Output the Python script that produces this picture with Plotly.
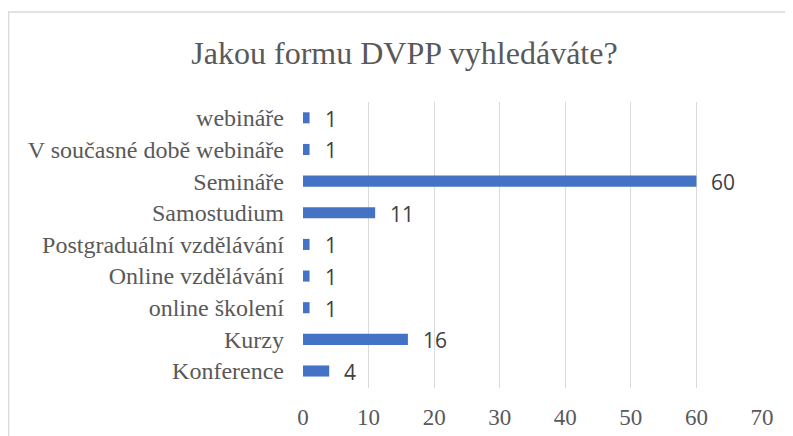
import plotly.graph_objects as go

categories = ["Konference", "Kurzy", "online školení", "Online vzdělávání",
              "Postgraduální vzdělávání", "Samostudium", "Semináře",
              "V současné době webináře", "webináře"]
values = [4, 16, 1, 1, 1, 11, 60, 1, 1]
x_ticks = [0, 10, 20, 30, 40, 50, 60, 70]
title_text = "Jakou formu DVPP vyhledáváte?"

SERIF = "Liberation Serif, Times New Roman, serif"
SANS = "Open Sans, Carlito, Liberation Sans, sans-serif"
GREY = "#595959"

fig = go.Figure()
fig.add_trace(go.Bar(
    x=values, y=categories, orientation="h",
    marker=dict(color="#4472C4", line=dict(width=0)),
    hoverinfo="x+y",
))

for v, c in zip(values, categories):
    fig.add_annotation(x=v, y=c, text=str(v), showarrow=False,
                       xanchor="left", yanchor="middle", xshift=13, yshift=-1,
                       font=dict(family=SANS, size=21, color="#404040"))

# page body has an 8px margin, so figure coords are page coords minus 8
L, R, T, B = 295, 39, 94, 56
W, H = 793, 436
pw, ph = W - L - R, H - T - B
# chart border (left edge at 0px, top at 4px of figure; right/bottom run off the view)
fig.add_shape(type="rect", xref="paper", yref="paper",
              x0=(0.7 - L) / pw, x1=(W + 20 - L) / pw,
              y0=-(20 + B) / ph, y1=((H - B) - 4) / ph,
              line=dict(color="#d9d9d9", width=1.3), fillcolor="rgba(0,0,0,0)",
              layer="below")

fig.update_layout(
    width=W, height=H,
    margin=dict(l=L, r=R, t=T, b=B, pad=0, autoexpand=False),
    paper_bgcolor="white", plot_bgcolor="white",
    bargap=0.65,
    showlegend=False,
    title=dict(text=title_text, x=0.5, xanchor="center", xref="container",
               y=1 - 45 / H, yanchor="middle", yref="container",
               font=dict(family=SERIF, size=32, color=GREY)),
    xaxis=dict(range=[0, 70], tickvals=x_ticks, showgrid=True,
               gridcolor="#d9d9d9", gridwidth=1, zeroline=False,
               showline=False, ticks="", ticklabelstandoff=13,
               tickfont=dict(family=SERIF, size=23, color=GREY), fixedrange=True),
    yaxis=dict(categoryorder="array", categoryarray=categories,
               showgrid=False, zeroline=False, showline=False, ticks="",
               ticklabelstandoff=18,
               tickfont=dict(family=SERIF, size=24, color=GREY), fixedrange=True),
)

fig.write_html("out.html")
